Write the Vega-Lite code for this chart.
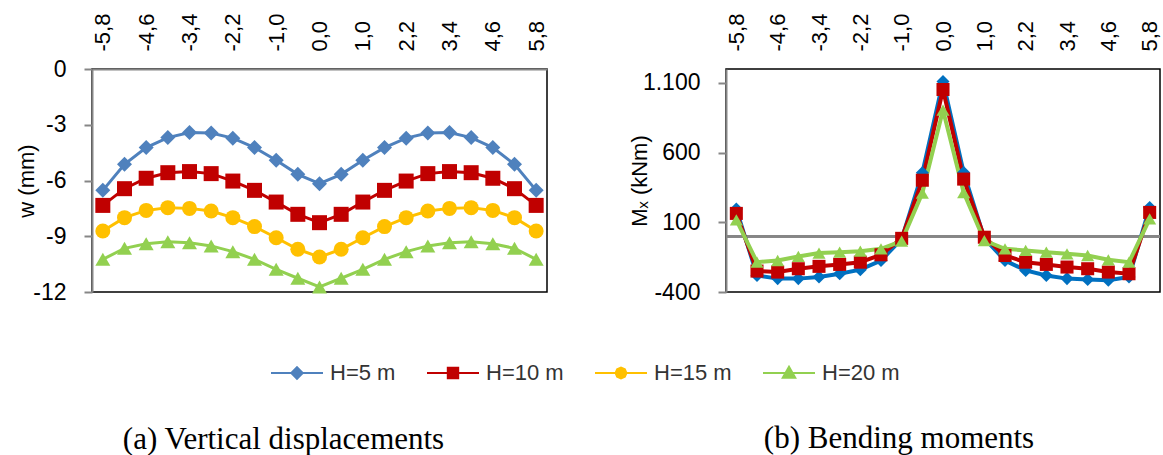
{
  "$schema": "https://vega.github.io/schema/vega-lite/v6.json",
  "background": "white",
  "padding": {"left": 15, "top": 12, "right": 5, "bottom": 5},
  "bounds": "flush",
  "spacing": 179,
  "resolve": {"scale": {"shape": "independent", "color": "independent"}, "legend": {"shape": "independent", "color": "independent"}},
  "config": {
    "font": "Liberation Sans",
    "view": {"stroke": "#000000", "strokeWidth": 1.5},
    "axis": {
      "labelFont": "Liberation Sans", "labelFontSize": 22, "labelColor": "#000000",
      "titleFont": "Liberation Sans", "titleFontSize": 22, "titleFontWeight": "normal", "titleColor": "#000000",
      "grid": false, "domainColor": "#868686", "domainWidth": 2, "tickColor": "#868686", "tickWidth": 2
    },
    "title": {"font": "Liberation Serif", "fontSize": 31, "fontWeight": "normal", "color": "#000000"}
  },
  "datasets": {
    "w": [
      {"x":-5.8,"s":"H=5 m","v":-6.53},{"x":-5.2,"s":"H=5 m","v":-5.13},{"x":-4.6,"s":"H=5 m","v":-4.23},{"x":-4.0,"s":"H=5 m","v":-3.69},{"x":-3.4,"s":"H=5 m","v":-3.42},{"x":-2.8,"s":"H=5 m","v":-3.45},{"x":-2.2,"s":"H=5 m","v":-3.72},{"x":-1.6,"s":"H=5 m","v":-4.23},{"x":-1.0,"s":"H=5 m","v":-4.91},{"x":-0.5,"s":"H=5 m","v":-5.67},{"x":0,"s":"H=5 m","v":-6.17},{"x":0.5,"s":"H=5 m","v":-5.67},{"x":1.0,"s":"H=5 m","v":-4.91},{"x":1.6,"s":"H=5 m","v":-4.23},{"x":2.2,"s":"H=5 m","v":-3.72},{"x":2.8,"s":"H=5 m","v":-3.45},{"x":3.4,"s":"H=5 m","v":-3.42},{"x":4.0,"s":"H=5 m","v":-3.69},{"x":4.6,"s":"H=5 m","v":-4.23},{"x":5.2,"s":"H=5 m","v":-5.13},{"x":5.8,"s":"H=5 m","v":-6.53},
      {"x":-5.8,"s":"H=10 m","v":-7.34},{"x":-5.2,"s":"H=10 m","v":-6.44},{"x":-4.6,"s":"H=10 m","v":-5.88},{"x":-4.0,"s":"H=10 m","v":-5.58},{"x":-3.4,"s":"H=10 m","v":-5.52},{"x":-2.8,"s":"H=10 m","v":-5.63},{"x":-2.2,"s":"H=10 m","v":-6.03},{"x":-1.6,"s":"H=10 m","v":-6.53},{"x":-1.0,"s":"H=10 m","v":-7.16},{"x":-0.5,"s":"H=10 m","v":-7.82},{"x":0,"s":"H=10 m","v":-8.27},{"x":0.5,"s":"H=10 m","v":-7.82},{"x":1.0,"s":"H=10 m","v":-7.16},{"x":1.6,"s":"H=10 m","v":-6.53},{"x":2.2,"s":"H=10 m","v":-6.03},{"x":2.8,"s":"H=10 m","v":-5.63},{"x":3.4,"s":"H=10 m","v":-5.52},{"x":4.0,"s":"H=10 m","v":-5.58},{"x":4.6,"s":"H=10 m","v":-5.88},{"x":5.2,"s":"H=10 m","v":-6.44},{"x":5.8,"s":"H=10 m","v":-7.34},
      {"x":-5.8,"s":"H=15 m","v":-8.72},{"x":-5.2,"s":"H=15 m","v":-8.0},{"x":-4.6,"s":"H=15 m","v":-7.61},{"x":-4.0,"s":"H=15 m","v":-7.46},{"x":-3.4,"s":"H=15 m","v":-7.5},{"x":-2.8,"s":"H=15 m","v":-7.64},{"x":-2.2,"s":"H=15 m","v":-8.0},{"x":-1.6,"s":"H=15 m","v":-8.48},{"x":-1.0,"s":"H=15 m","v":-9.08},{"x":-0.5,"s":"H=15 m","v":-9.7},{"x":0,"s":"H=15 m","v":-10.12},{"x":0.5,"s":"H=15 m","v":-9.7},{"x":1.0,"s":"H=15 m","v":-9.08},{"x":1.6,"s":"H=15 m","v":-8.48},{"x":2.2,"s":"H=15 m","v":-8.0},{"x":2.8,"s":"H=15 m","v":-7.64},{"x":3.4,"s":"H=15 m","v":-7.5},{"x":4.0,"s":"H=15 m","v":-7.46},{"x":4.6,"s":"H=15 m","v":-7.61},{"x":5.2,"s":"H=15 m","v":-8.0},{"x":5.8,"s":"H=15 m","v":-8.72},
      {"x":-5.8,"s":"H=20 m","v":-10.24},{"x":-5.2,"s":"H=20 m","v":-9.65},{"x":-4.6,"s":"H=20 m","v":-9.4},{"x":-4.0,"s":"H=20 m","v":-9.29},{"x":-3.4,"s":"H=20 m","v":-9.35},{"x":-2.8,"s":"H=20 m","v":-9.52},{"x":-2.2,"s":"H=20 m","v":-9.83},{"x":-1.6,"s":"H=20 m","v":-10.24},{"x":-1.0,"s":"H=20 m","v":-10.78},{"x":-0.5,"s":"H=20 m","v":-11.26},{"x":0,"s":"H=20 m","v":-11.73},{"x":0.5,"s":"H=20 m","v":-11.26},{"x":1.0,"s":"H=20 m","v":-10.78},{"x":1.6,"s":"H=20 m","v":-10.24},{"x":2.2,"s":"H=20 m","v":-9.83},{"x":2.8,"s":"H=20 m","v":-9.52},{"x":3.4,"s":"H=20 m","v":-9.35},{"x":4.0,"s":"H=20 m","v":-9.29},{"x":4.6,"s":"H=20 m","v":-9.4},{"x":5.2,"s":"H=20 m","v":-9.65},{"x":5.8,"s":"H=20 m","v":-10.24}
    ],
    "m": [
      {"x":-5.8,"s":"H=5 m","v":195},{"x":-5.2,"s":"H=5 m","v":-281},{"x":-4.6,"s":"H=5 m","v":-304},{"x":-4.0,"s":"H=5 m","v":-304},{"x":-3.4,"s":"H=5 m","v":-293},{"x":-2.8,"s":"H=5 m","v":-269},{"x":-2.2,"s":"H=5 m","v":-240},{"x":-1.6,"s":"H=5 m","v":-174},{"x":-1.0,"s":"H=5 m","v":-20},{"x":-0.5,"s":"H=5 m","v":455},{"x":0,"s":"H=5 m","v":1110},{"x":0.5,"s":"H=5 m","v":457},{"x":1.0,"s":"H=5 m","v":-15},{"x":1.6,"s":"H=5 m","v":-174},{"x":2.2,"s":"H=5 m","v":-245},{"x":2.8,"s":"H=5 m","v":-281},{"x":3.4,"s":"H=5 m","v":-304},{"x":4.0,"s":"H=5 m","v":-311},{"x":4.6,"s":"H=5 m","v":-316},{"x":5.2,"s":"H=5 m","v":-293},{"x":5.8,"s":"H=5 m","v":207},
      {"x":-5.8,"s":"H=10 m","v":164},{"x":-5.2,"s":"H=10 m","v":-250},{"x":-4.6,"s":"H=10 m","v":-257},{"x":-4.0,"s":"H=10 m","v":-233},{"x":-3.4,"s":"H=10 m","v":-216},{"x":-2.8,"s":"H=10 m","v":-202},{"x":-2.2,"s":"H=10 m","v":-186},{"x":-1.6,"s":"H=10 m","v":-133},{"x":-1.0,"s":"H=10 m","v":-15},{"x":-0.5,"s":"H=10 m","v":402},{"x":0,"s":"H=10 m","v":1053},{"x":0.5,"s":"H=10 m","v":410},{"x":1.0,"s":"H=10 m","v":-7},{"x":1.6,"s":"H=10 m","v":-138},{"x":2.2,"s":"H=10 m","v":-186},{"x":2.8,"s":"H=10 m","v":-202},{"x":3.4,"s":"H=10 m","v":-221},{"x":4.0,"s":"H=10 m","v":-233},{"x":4.6,"s":"H=10 m","v":-257},{"x":5.2,"s":"H=10 m","v":-269},{"x":5.8,"s":"H=10 m","v":171},
      {"x":-5.8,"s":"H=20 m","v":117},{"x":-5.2,"s":"H=20 m","v":-186},{"x":-4.6,"s":"H=20 m","v":-174},{"x":-4.0,"s":"H=20 m","v":-145},{"x":-3.4,"s":"H=20 m","v":-121},{"x":-2.8,"s":"H=20 m","v":-114},{"x":-2.2,"s":"H=20 m","v":-107},{"x":-1.6,"s":"H=20 m","v":-90},{"x":-1.0,"s":"H=20 m","v":-35},{"x":-0.5,"s":"H=20 m","v":310},{"x":0,"s":"H=20 m","v":905},{"x":0.5,"s":"H=20 m","v":314},{"x":1.0,"s":"H=20 m","v":-31},{"x":1.6,"s":"H=20 m","v":-90},{"x":2.2,"s":"H=20 m","v":-102},{"x":2.8,"s":"H=20 m","v":-114},{"x":3.4,"s":"H=20 m","v":-126},{"x":4.0,"s":"H=20 m","v":-138},{"x":4.6,"s":"H=20 m","v":-169},{"x":5.2,"s":"H=20 m","v":-186},{"x":5.8,"s":"H=20 m","v":124}
    ]
  },
  "hconcat": [
    {
      "width": 455,
      "height": 223,
      "data": {"name": "w"},
      "title": {"text": "(a) Vertical displacements", "orient": "bottom", "anchor": "middle", "frame": "group", "offset": 41, "dx": -36},
      "resolve": {"scale": {"shape": "independent", "color": "independent"}, "legend": {"shape": "independent", "color": "independent"}},
      "encoding": {
        "x": {"field": "x", "type": "ordinal", "axis": {"orient": "top", "title": null, "labelAngle": -90, "ticks": false, "domain": true, "labelPadding": 18, "values": [-5.8,-4.6,-3.4,-2.2,-1.0,0,1.0,2.2,3.4,4.6,5.8], "labelExpr": "(datum.value < 0 ? '-' : '') + replace(format(abs(datum.value), '.1f'), '.', ',')"}},
        "y": {"field": "v", "type": "quantitative", "scale": {"domain": [-12, 0], "nice": false, "zero": false}, "axis": {"title": "w (mm)", "values": [-12,-9,-6,-3,0], "labelExpr": "datum.value + ''", "labelFontSize": 23, "tickSize": 8, "labelPadding": 18, "titlePadding": -6}}
      },
      "layer": [
        {"mark": {"type": "line", "strokeWidth": 3},
         "encoding": {"color": {"field": "s", "type": "nominal", "legend": null, "scale": {"domain": ["H=5 m","H=10 m","H=15 m","H=20 m"], "range": ["#4F81BD","#C00000","#FFC000","#92D050"]}}}},
        {"mark": {"type": "point", "filled": true, "size": 225, "opacity": 1},
         "encoding": {
           "color": {"field": "s", "type": "nominal", "legend": null, "scale": {"domain": ["H=5 m","H=10 m","H=15 m","H=20 m"], "range": ["#4F81BD","#C00000","#FFC000","#92D050"]}},
           "shape": {"field": "s", "type": "nominal", "legend": null, "scale": {"domain": ["H=5 m","H=10 m","H=15 m","H=20 m"], "range": ["diamond","square","circle","triangle-up"]}}}},
        {"mark": {"type": "point", "filled": false, "size": 10, "opacity": 0},
         "encoding": {
           "color": {"field": "s", "type": "nominal", "scale": {"domain": ["H=5 m","H=10 m","H=15 m","H=20 m"], "range": ["#4F81BD","#C00000","#FFC000","#92D050"]},
             "legend": {"orient": "none", "legendX": 178, "legendY": 277, "direction": "horizontal", "title": null, "symbolSize": 2704, "symbolStrokeWidth": 2, "symbolOpacity": 1, "labelFont": "Liberation Sans", "labelFontSize": 22, "labelColor": "#333333", "labelOffset": 6, "columnPadding": 27}},
           "shape": {"field": "s", "type": "nominal", "scale": {"domain": ["H=5 m","H=10 m","H=15 m","H=20 m"], "range": [
             "M-1,0L1,0M0,-0.22L0.22,0L0,0.22L-0.22,0ZM0,-0.16L0.16,0L0,0.16L-0.16,0ZM0,-0.1L0.1,0L0,0.1L-0.1,0ZM0,-0.04L0.04,0L0,0.04L-0.04,0Z",
             "M-1,0L1,0M-0.2,-0.2L0.2,-0.2L0.2,0.2L-0.2,0.2ZM-0.14,-0.14L0.14,-0.14L0.14,0.14L-0.14,0.14ZM-0.08,-0.08L0.08,-0.08L0.08,0.08L-0.08,0.08ZM-0.02,-0.02L0.02,-0.02L0.02,0.02L-0.02,0.02Z",
             "M-1,0L1,0M0.21,0L0.148,0.148L0,0.21L-0.148,0.148L-0.21,0L-0.148,-0.148L0,-0.21L0.148,-0.148ZM0.15,0L0.106,0.106L0,0.15L-0.106,0.106L-0.15,0L-0.106,-0.106L0,-0.15L0.106,-0.106ZM0.09,0L0.064,0.064L0,0.09L-0.064,0.064L-0.09,0L-0.064,-0.064L0,-0.09L0.064,-0.064ZM0.03,0L0,0.03L-0.03,0L0,-0.03Z",
             "M-1,0L1,0M0,-0.24L0.24,0.18L-0.24,0.18ZM0,-0.15L0.15,0.12L-0.15,0.12ZM0,-0.07L0.07,0.07L-0.07,0.07Z"
           ]},
             "legend": {"orient": "none", "legendX": 178, "legendY": 277, "direction": "horizontal", "title": null, "symbolSize": 2704, "symbolStrokeWidth": 2, "symbolOpacity": 1, "labelFont": "Liberation Sans", "labelFontSize": 22, "labelColor": "#333333", "labelOffset": 6, "columnPadding": 27}}}}
      ]
    },
    {
      "width": 434,
      "height": 223,
      "data": {"name": "m"},
      "title": {"text": "(b) Bending moments", "orient": "bottom", "anchor": "middle", "frame": "group", "offset": 120, "dx": -44},
      "encoding": {
        "x": {"field": "x", "type": "ordinal", "axis": {"orient": "top", "title": null, "labelAngle": -90, "ticks": false, "domain": false, "labelPadding": 18, "values": [-5.8,-4.6,-3.4,-2.2,-1.0,0,1.0,2.2,3.4,4.6,5.8], "labelExpr": "(datum.value < 0 ? '-' : '') + replace(format(abs(datum.value), '.1f'), '.', ',')"}},
        "y": {"field": "v", "type": "quantitative", "scale": {"domain": [-400, 1200], "nice": false, "zero": false}, "axis": {"title": "Mₓ (kNm)", "values": [-400,100,600,1100], "labelExpr": "datum.value >= 1000 ? replace(format(datum.value, ','), ',', '.') : datum.value + ''", "labelFontSize": 23, "tickSize": 8, "labelPadding": 18, "titlePadding": -9}}
      },
      "layer": [
        {"mark": {"type": "rule", "color": "#868686", "strokeWidth": 2}, "encoding": {"y": {"datum": 0}, "x": null}},
        {"mark": {"type": "line", "strokeWidth": 4},
         "encoding": {"stroke": {"field": "s", "type": "nominal", "legend": null, "scale": {"domain": ["H=5 m","H=10 m","H=20 m"], "range": ["#0070C0","#C00000","#92D050"]}}}},
        {"mark": {"type": "point", "filled": true, "size": 170, "opacity": 1},
         "encoding": {
           "fill": {"field": "s", "type": "nominal", "legend": null, "scale": {"domain": ["H=5 m","H=10 m","H=20 m"], "range": ["#0070C0","#C00000","#92D050"]}},
           "shape": {"field": "s", "type": "nominal", "legend": null, "scale": {"domain": ["H=5 m","H=10 m","H=15 m","H=20 m"], "range": ["diamond","square","circle","triangle-up"]}}}}
      ]
    }
  ]
}
